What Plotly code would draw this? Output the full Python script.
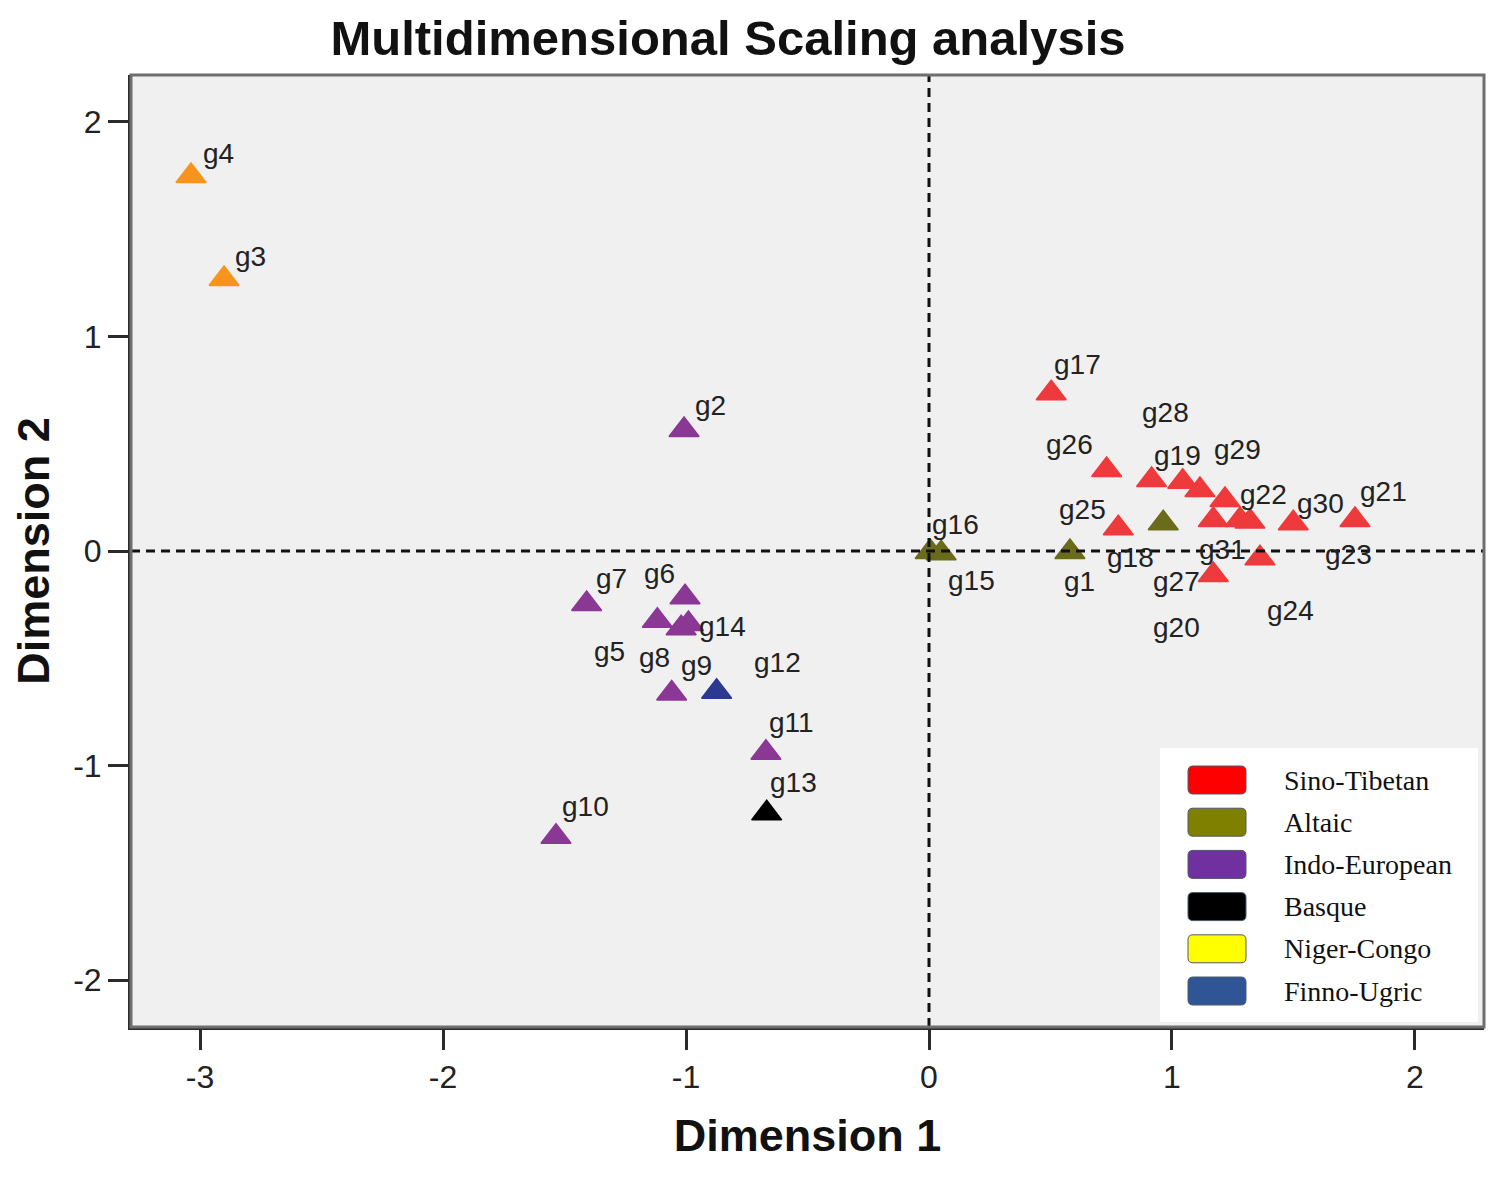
import plotly.graph_objects as go

# MDS coordinates
groups = ['g1', 'g2', 'g3', 'g4', 'g5', 'g6', 'g7', 'g8', 'g9', 'g10',
          'g11', 'g12', 'g13', 'g14', 'g15', 'g16', 'g17', 'g18', 'g19', 'g20',
          'g21', 'g22', 'g23', 'g24', 'g25', 'g26', 'g27', 'g28', 'g29', 'g30', 'g31']
dim1 = [0.580, -1.008, -2.901, -3.037, -1.118, -1.004, -1.409, -1.020, -1.059, -1.535,
        -0.671, -0.874, -0.668, -0.990, 0.050, 0.005, 0.503, 0.964, 0.916, 1.170,
        1.753, 1.280, 1.321, 1.362, 0.779, 0.731, 1.218, 1.044, 1.115, 1.499, 1.170]
dim2 = [-0.005, 0.564, 1.268, 1.748, -0.325, -0.216, -0.247, -0.360, -0.664, -1.332,
        -0.940, -0.656, -1.223, -0.340, -0.010, -0.005, 0.735, 0.129, 0.331, -0.112,
        0.145, 0.145, 0.137, -0.034, 0.106, 0.378, 0.238, 0.323, 0.284, 0.129, 0.145]
family = ['Altaic', 'Indo-European', 'Niger-Congo', 'Niger-Congo', 'Indo-European',
          'Indo-European', 'Indo-European', 'Indo-European', 'Indo-European', 'Indo-European',
          'Indo-European', 'Finno-Ugric', 'Basque', 'Indo-European', 'Altaic',
          'Altaic', 'Sino-Tibetan', 'Altaic', 'Sino-Tibetan', 'Sino-Tibetan',
          'Sino-Tibetan', 'Sino-Tibetan', 'Sino-Tibetan', 'Sino-Tibetan', 'Sino-Tibetan',
          'Sino-Tibetan', 'Sino-Tibetan', 'Sino-Tibetan', 'Sino-Tibetan', 'Sino-Tibetan',
          'Sino-Tibetan']

legend_names = ['Sino-Tibetan', 'Altaic', 'Indo-European', 'Basque', 'Niger-Congo', 'Finno-Ugric']

x_ticks = [-3, -2, -1, 0, 1, 2]
x_tick_labels = ['-3', '-2', '-1', '0', '1', '2']
y_ticks = [-2, -1, 0, 1, 2]
y_tick_labels = ['-2', '-1', '0', '1', '2']

# styles
legend_colors = {'Sino-Tibetan': '#ff0000', 'Altaic': '#808000', 'Indo-European': '#7030a0',
                 'Basque': '#000000', 'Niger-Congo': '#ffff00', 'Finno-Ugric': '#2f5597'}
marker_colors = {'Sino-Tibetan': '#ee3a3c', 'Altaic': '#6b6b1c', 'Indo-European': '#8a3894',
                 'Basque': '#000000', 'Niger-Congo': '#f7941d', 'Finno-Ugric': '#2b3990'}

# label offsets in pixels (dx right, dy down) from each point
label_offsets = {
    'g1': (10, 29), 'g2': (26, -25), 'g3': (26, -23), 'g4': (27, -23), 'g5': (-48, 31),
    'g6': (-26, -24), 'g7': (25, -25), 'g8': (-27, 29), 'g9': (25, -28), 'g10': (29, -30),
    'g11': (26, -30), 'g12': (61, -29), 'g13': (27, -31), 'g14': (34, 3), 'g15': (30, 27),
    'g16': (25, -28), 'g17': (26, -29), 'g18': (-33, 34), 'g19': (26, -25), 'g20': (-37, 52),
    'g21': (29, -28), 'g22': (23, -25), 'g23': (98, 33), 'g24': (31, 52), 'g25': (-36, -19),
    'g26': (-37, -25), 'g27': (-48, 82), 'g28': (-17, -69), 'g29': (38, -41), 'g30': (27, -20),
    'g31': (9, 30),
}

# page body has an 8px margin, so the figure is a bit smaller than the window
OFF = 8
W, H = 1484, 1162
L, T = 131 - OFF, 75 - OFF
R = W - (1484 - OFF)
B = H - (1027 - OFF)
PW, PH = W - L - R, H - T - B


def px_to_paper(px, py):
    # screen pixels -> paper fraction
    return (px - OFF - L) / PW, (H - B - (py - OFF)) / PH


fig = go.Figure()
fig.add_trace(go.Scatter(
    x=dim1, y=dim2, mode='markers', text=groups,
    marker=dict(symbol='triangle-up', size=26,
                color=[marker_colors[f] for f in family],
                line=dict(width=1.5, color=[marker_colors[f] for f in family])),
    showlegend=False, hoverinfo='text'))

for g, x, y in zip(groups, dim1, dim2):
    dx, dy = label_offsets[g]
    fig.add_annotation(x=x, y=y, text=g, showarrow=False, xshift=dx, yshift=-dy,
                       font=dict(family='Liberation Sans', size=28, color='#222'))

# dashed reference lines through the origin
fig.add_hline(y=0, line=dict(color='#111', width=3, dash='9px,6px'))
fig.add_vline(x=0, line=dict(color='#111', width=3, dash='9px,6px'))

# frame (top/right lighter grey)
fig.add_shape(type='rect', xref='paper', yref='paper', x0=0, x1=1, y0=0, y1=1,
              line=dict(color='#6e6e6e', width=3), layer='above')

# hand-drawn legend box
lx0, ly0 = px_to_paper(1160, 1022)
lx1, ly1 = px_to_paper(1478, 748)
fig.add_shape(type='rect', xref='paper', yref='paper', x0=lx0, x1=lx1, y0=ly0, y1=ly1,
              fillcolor='white', line=dict(width=0), layer='above')
swatch = ('M -24,-14 L 24,-14 Q 29,-14 29,-9 L 29,9 Q 29,14 24,14 '
          'L -24,14 Q -29,14 -29,9 L -29,-9 Q -29,-14 -24,-14 Z')
for i, name in enumerate(legend_names):
    sx, sy = px_to_paper(1217, 780 + i * 42.2)
    tx, _ = px_to_paper(1282, 0)
    fig.add_shape(type='path', xref='paper', yref='paper', xsizemode='pixel', ysizemode='pixel',
                  xanchor=sx, yanchor=sy, path=swatch, fillcolor=legend_colors[name],
                  line=dict(color='#4a5a6a', width=1), layer='above')
    fig.add_annotation(xref='paper', yref='paper', x=tx, y=sy, text=name, showarrow=False,
                       xanchor='left', yanchor='middle',
                       font=dict(family='Liberation Serif', size=28, color='#111'))

axis_common = dict(showgrid=False, zeroline=False, showline=True, linecolor='#2b2b2b',
                   linewidth=3, ticks='outside', ticklen=20, tickwidth=3, tickcolor='#2b2b2b',
                   tickfont=dict(family='Liberation Sans', size=32, color='#222'))

fig.update_layout(
    width=W, height=H,
    margin=dict(l=L, r=R, t=T, b=B, autoexpand=False),
    paper_bgcolor='white', plot_bgcolor='#f0f0f0',
    title=dict(text='<b>Multidimensional Scaling analysis</b>', xref='container',
               x=(728 - OFF) / W, xanchor='center', yref='container',
               y=1 - (38 - OFF) / H, yanchor='middle',
               font=dict(family='Liberation Sans', size=49, color='#111')),
    xaxis=dict(range=[-3.284, 2.284], tickvals=x_ticks, ticktext=x_tick_labels,
               title=dict(text='<b>Dimension 1</b>', standoff=26,
                          font=dict(family='Liberation Sans', size=45, color='#111')),
               **axis_common),
    yaxis=dict(range=[-2.219, 2.219], tickvals=y_ticks, ticktext=y_tick_labels,
               title=dict(text='<b>Dimension 2</b>', standoff=30,
                          font=dict(family='Liberation Sans', size=45, color='#111')),
               **axis_common),
)

fig.write_html("out.html")
